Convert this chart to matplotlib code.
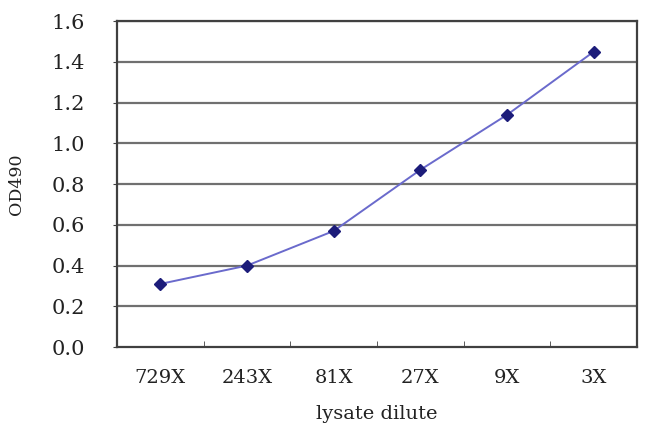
import matplotlib.pyplot as plt
import numpy as np

# data
dilutions = ["729X", "243X", "81X", "27X", "9X", "3X"]
od490 = [0.31, 0.40, 0.57, 0.87, 1.14, 1.45]
yticks = [0.0, 0.2, 0.4, 0.6, 0.8, 1.0, 1.2, 1.4, 1.6]

plt.rcParams["font.family"] = ["DejaVu Serif"]

fig = plt.figure(figsize=(6.5, 4.41), dpi=100)
ax = fig.add_axes([0.18, 0.213, 0.80, 0.739])

x = np.arange(len(dilutions))
ax.plot(x, od490, color="#6a6acc", lw=1.4, zorder=3)
ax.plot(x, od490, ls="none", marker="D", ms=6.5, color="#1c1c7a", zorder=4)

ax.set_xlim(-0.5, len(dilutions) - 0.5)
ax.set_ylim(0, 1.6)
ax.set_yticks(yticks)
ax.set_yticklabels([f"{v:.1f}" for v in yticks], fontsize=15, color="#222222")
for v in yticks[1:]:
    ax.axhline(v, color="#707070", lw=1.6, zorder=1)

ax.set_xticks(x)
ax.set_xticklabels(dilutions, fontsize=14, color="#222222")
ax.tick_params(axis="x", length=0, pad=16)
ax.set_xticks(np.arange(0.5, len(dilutions) - 0.5), minor=True)
ax.tick_params(axis="x", which="minor", direction="in", length=4, color="#404040")
ax.tick_params(axis="y", direction="out", length=3, color="#404040", pad=20)

for s in ax.spines.values():
    s.set_color("#404040")
    s.set_linewidth(1.6)

ax.set_ylabel("OD490", fontsize=12.5, labelpad=19, color="#222222")
ax.set_xlabel("lysate dilute", fontsize=14, labelpad=13, color="#222222")

fig.savefig("out.png", dpi=100)
